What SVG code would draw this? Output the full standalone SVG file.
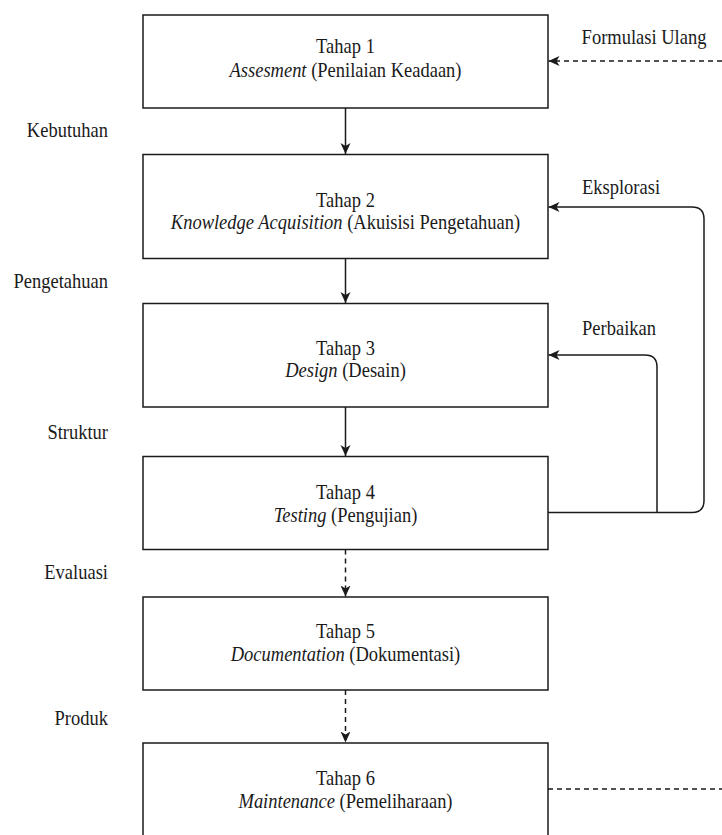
<svg xmlns="http://www.w3.org/2000/svg" width="722" height="835" viewBox="0 0 722 835">
<style>
  .box { fill: #ffffff; stroke: #1a1a1a; stroke-width: 1.5; }
  .t { font-family: "Liberation Serif", "Times New Roman", serif; font-size: 18.5px; fill: #1a1a1a; }
  .c { text-anchor: middle; }
  .e { text-anchor: end; }
  .i { font-style: italic; }
  .ln { fill: none; stroke: #1a1a1a; stroke-width: 1.5; }
  .dash { stroke-dasharray: 5 4; }
</style>
<defs>
  <marker id="arr" markerUnits="userSpaceOnUse" markerWidth="12" markerHeight="12" refX="11" refY="6" orient="auto">
    <path d="M0,1 L11,6 L0,11 L3,6 z" fill="#1a1a1a"/>
  </marker>
</defs>
<rect width="722" height="835" fill="#ffffff"/>

<g id="connectors">
  <line class="ln" x1="345.5" y1="108" x2="345.5" y2="154" marker-end="url(#arr)"/>
  <line class="ln" x1="345.5" y1="258.5" x2="345.5" y2="303" marker-end="url(#arr)"/>
  <line class="ln" x1="345.5" y1="407" x2="345.5" y2="456" marker-end="url(#arr)"/>
  <line class="ln dash" x1="345.5" y1="549.5" x2="345.5" y2="596.5" marker-end="url(#arr)"/>
  <line class="ln dash" x1="345.5" y1="690" x2="345.5" y2="742.5" marker-end="url(#arr)"/>
  <line class="ln dash" x1="722" y1="61" x2="548.5" y2="61" marker-end="url(#arr)"/>
  <path class="ln" d="M548,512.5 H692 Q704,512.5 704,500.5 V219 Q704,207 692,207 H548.5" marker-end="url(#arr)"/>
  <path class="ln" d="M657,512.5 V367 Q657,355 645,355 H548.5" marker-end="url(#arr)"/>
  <line class="ln dash" x1="548" y1="789" x2="722" y2="789"/>
  <text class="t c" transform="translate(644,43.5) scale(1,1.15)">Formulasi Ulang</text>
  <text class="t c" transform="translate(621,194) scale(1,1.15)">Eksplorasi</text>
  <text class="t c" transform="translate(619,335) scale(1,1.15)">Perbaikan</text>
  <text class="t e" transform="translate(108,136.5) scale(1,1.15)">Kebutuhan</text>
  <text class="t e" transform="translate(108,288) scale(1,1.15)">Pengetahuan</text>
  <text class="t e" transform="translate(108,439) scale(1,1.15)">Struktur</text>
  <text class="t e" transform="translate(108,579) scale(1,1.15)">Evaluasi</text>
  <text class="t e" transform="translate(108,725) scale(1,1.15)">Produk</text>
</g>

<g id="tahap1">
  <rect class="box" x="143" y="15" width="405" height="93"/>
  <text class="t c" transform="translate(345.5,53) scale(1,1.15)">Tahap 1</text>
  <text class="t c" transform="translate(345.5,77) scale(1,1.15)"><tspan class="i">Assesment</tspan> (Penilaian Keadaan)</text>
</g>
<g id="tahap2">
  <rect class="box" x="143" y="154.5" width="405" height="104"/>
  <text class="t c" transform="translate(345.5,207) scale(1,1.15)">Tahap 2</text>
  <text class="t c" transform="translate(345.5,229) scale(1,1.15)"><tspan class="i">Knowledge Acquisition</tspan> (Akuisisi Pengetahuan)</text>
</g>
<g id="tahap3">
  <rect class="box" x="143" y="303.5" width="405" height="103.5"/>
  <text class="t c" transform="translate(345.5,355) scale(1,1.15)">Tahap 3</text>
  <text class="t c" transform="translate(345.5,377) scale(1,1.15)"><tspan class="i">Design</tspan> (Desain)</text>
</g>
<g id="tahap4">
  <rect class="box" x="143" y="456.5" width="405" height="93"/>
  <text class="t c" transform="translate(345.5,499) scale(1,1.15)">Tahap 4</text>
  <text class="t c" transform="translate(345.5,521.5) scale(1,1.15)"><tspan class="i">Testing</tspan> (Pengujian)</text>
</g>
<g id="tahap5">
  <rect class="box" x="143" y="597" width="405" height="93"/>
  <text class="t c" transform="translate(345.5,637.5) scale(1,1.15)">Tahap 5</text>
  <text class="t c" transform="translate(345.5,661) scale(1,1.15)"><tspan class="i">Documentation</tspan> (Dokumentasi)</text>
</g>
<g id="tahap6">
  <rect class="box" x="143" y="743" width="405" height="100"/>
  <text class="t c" transform="translate(345.5,785) scale(1,1.15)">Tahap 6</text>
  <text class="t c" transform="translate(345.5,808) scale(1,1.15)"><tspan class="i">Maintenance</tspan> (Pemeliharaan)</text>
</g>
</svg>
